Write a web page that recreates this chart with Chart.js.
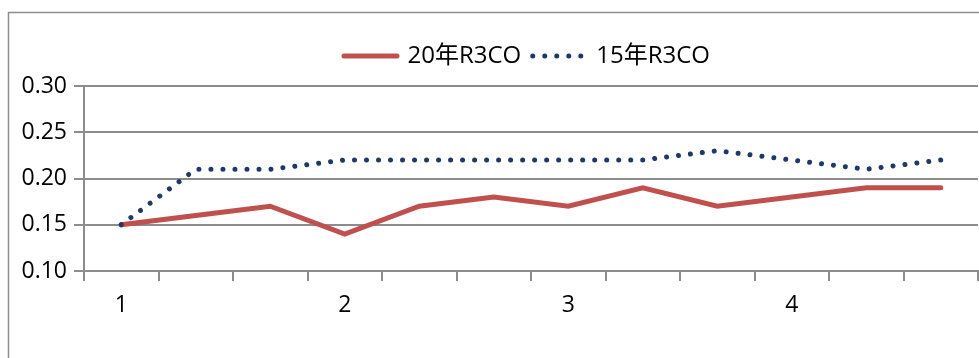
<!DOCTYPE html>
<html>
<head>
<meta charset="utf-8">
<script src="https://cdn.jsdelivr.net/npm/chart.js@4.4.1/dist/chart.umd.min.js"></script>
<style>
  html, body { margin: 0; padding: 0; background: #fff; overflow: hidden; }
  canvas { display: block; }
</style>
</head>
<body>
<canvas id="chart" width="979" height="358"></canvas>
<script>
// Category labels along the x axis (one label per group of three points)
const categories = ['1', '', '', '2', '', '', '3', '', '', '4', '', ''];
// Series values
const r3co20 = [0.15, 0.16, 0.17, 0.14, 0.17, 0.18, 0.17, 0.19, 0.17, 0.18, 0.19, 0.19];
const r3co15 = [0.15, 0.21, 0.21, 0.22, 0.22, 0.22, 0.22, 0.22, 0.23, 0.22, 0.21, 0.22];
// Value-axis tick labels
const yTicks = [0.10, 0.15, 0.20, 0.25, 0.30];
const seriesNames = ['20年R3CO', '15年R3CO'];

const FONT = "'Open Sans', 'Noto Sans CJK SC', sans-serif";
const AXIS_GREY = '#8c8c8c';
const RED = '#c0504d';
const NAVY = '#1f3864';

// Outer frame of the chart box
const framePlugin = {
  id: 'frame',
  beforeDraw(chart) {
    const ctx = chart.ctx;
    ctx.save();
    ctx.strokeStyle = '#8e8e8e';
    ctx.lineWidth = 1.5;
    ctx.strokeRect(8.5, 12.5, 1100, 500);
    ctx.restore();
  }
};

// Legend row above the plot: line sample followed by series name
const legendPlugin = {
  id: 'lineLegend',
  afterDraw(chart) {
    const ctx = chart.ctx;
    const area = chart.chartArea;
    ctx.save();
    ctx.font = '24px ' + FONT;
    ctx.textBaseline = 'middle';
    const sample = 53, gapText = 10.5, gapItem = 11.5;
    const items = chart.data.datasets.map(ds => ({
      ds, w: ctx.measureText(ds.label).width
    }));
    let total = 0;
    items.forEach((it, i) => { total += sample + gapText + it.w + (i ? gapItem : 0); });
    let x = (area.left + area.right) / 2 - 4 - total / 2;
    const y = 56;
    items.forEach((it, i) => {
      if (i) x += gapItem;
      ctx.beginPath();
      ctx.strokeStyle = it.ds.borderColor;
      ctx.lineWidth = it.ds.borderWidth;
      ctx.lineCap = 'round';
      ctx.setLineDash(it.ds.borderDash || []);
      ctx.moveTo(x, y);
      ctx.lineTo(x + sample, y);
      ctx.stroke();
      ctx.setLineDash([]);
      x += sample + gapText;
      ctx.fillStyle = '#000';
      ctx.fillText(it.ds.label, x, y);
      x += it.w;
    });
    ctx.restore();
  }
};

new Chart(document.getElementById('chart'), {
  type: 'line',
  data: {
    labels: categories,
    datasets: [
      {
        label: seriesNames[0],
        data: r3co20,
        borderColor: RED,
        borderWidth: 5,
        borderCapStyle: 'round',
        borderJoinStyle: 'miter',
        pointRadius: 0,
        tension: 0,
        order: 1
      },
      {
        label: seriesNames[1],
        data: r3co15,
        borderColor: NAVY,
        borderWidth: 5,
        borderDash: [0.01, 12],
        borderCapStyle: 'round',
        borderJoinStyle: 'round',
        pointRadius: 0,
        tension: 0,
        order: 0
      }
    ]
  },
  options: {
    responsive: false,
    animation: false,
    layout: { padding: { top: 86, left: 0, right: 1, bottom: 0 } },
    plugins: {
      legend: { display: false },
      tooltip: { enabled: false }
    },
    scales: {
      x: {
        type: 'category',
        offset: true,
        afterFit(scale) { scale.height = 87; },
        grid: {
          offset: true,
          drawOnChartArea: false,
          drawTicks: true,
          tickLength: 10,
          color: AXIS_GREY,
          lineWidth: 2
        },
        border: { display: true, color: AXIS_GREY, width: 2 },
        ticks: {
          autoSkip: false,
          maxRotation: 0,
          padding: 11,
          color: '#000',
          font: { family: FONT, size: 23 }
        }
      },
      y: {
        min: 0.10,
        max: 0.30,
        afterFit(scale) { scale.width = 84; },
        afterBuildTicks(scale) { scale.ticks = yTicks.map(v => ({ value: v })); },
        grid: {
          color: AXIS_GREY,
          lineWidth: 2,
          drawTicks: true,
          tickLength: 10
        },
        border: { display: true, color: AXIS_GREY, width: 2 },
        ticks: {
          padding: 7,
          color: '#000',
          font: { family: FONT, size: 23 },
          callback: v => Number(v).toFixed(2)
        }
      }
    }
  },
  plugins: [framePlugin, legendPlugin]
});
</script>
</body>
</html>
